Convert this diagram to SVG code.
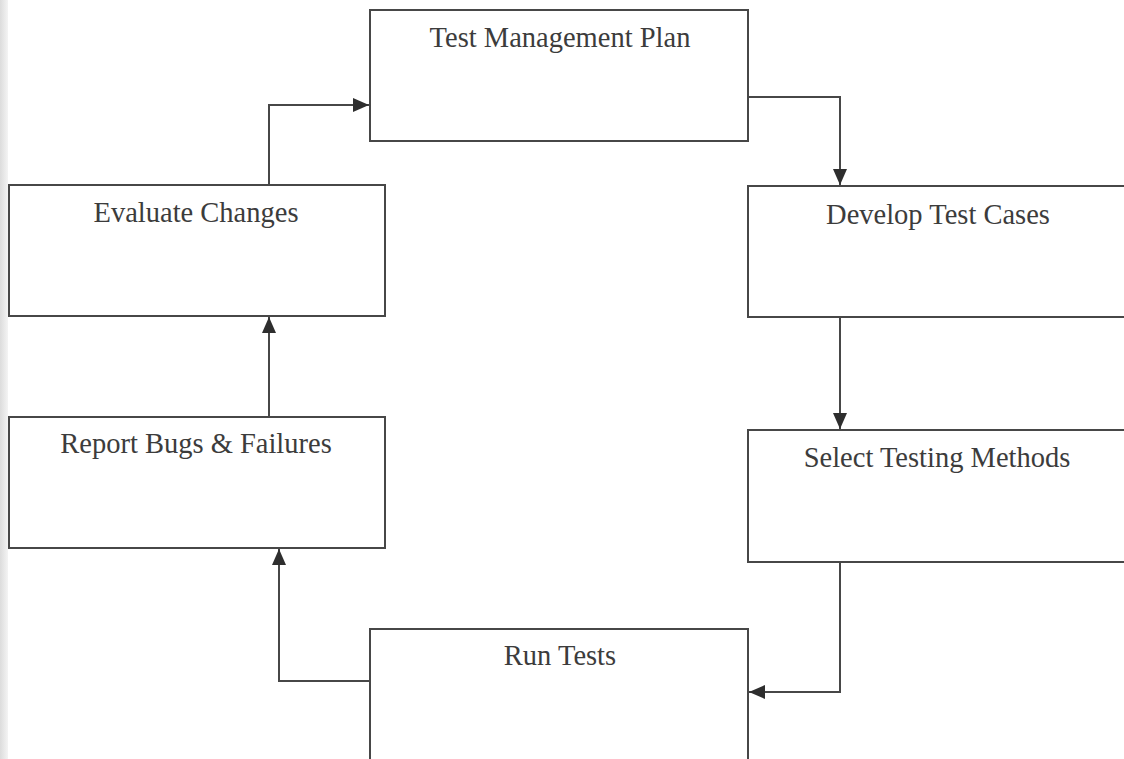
<svg xmlns="http://www.w3.org/2000/svg" width="1124" height="759" viewBox="0 0 1124 759">
<style>
.box{fill:#fff;stroke:#474747;stroke-width:2}
.lbl{font-family:"Liberation Serif","Times New Roman",serif;font-size:28.5px;fill:#3c3c3c;text-anchor:middle}
.con{fill:none;stroke:#474747;stroke-width:2}
</style>
<defs>
<marker id="ah" markerWidth="16" markerHeight="14" refX="16" refY="7" orient="auto" markerUnits="userSpaceOnUse">
<path d="M0,0 L16,7 L0,14 Z" fill="#2e2e2e"/>
</marker>
<linearGradient id="edge" x1="0" x2="1" y1="0" y2="0">
<stop offset="0" stop-color="#dcdcdc"/>
<stop offset="1" stop-color="#f4f4f4"/>
</linearGradient>
</defs>
<rect width="1124" height="759" fill="#fff"/>
<rect x="0" y="0" width="8" height="759" fill="url(#edge)"/>
<g id="connectors">
<path class="con" d="M748,97 H840 V185" marker-end="url(#ah)"/>
<path class="con" d="M840,317 V429" marker-end="url(#ah)"/>
<path class="con" d="M840,562 V692 H749" marker-end="url(#ah)"/>
<path class="con" d="M370,681 H279 V549" marker-end="url(#ah)"/>
<path class="con" d="M269,417 V317" marker-end="url(#ah)"/>
<path class="con" d="M269,185 V105 H369" marker-end="url(#ah)"/>
</g>
<g id="test-management-plan">
<rect class="box" x="370" y="10" width="378" height="131"/>
<text class="lbl" x="560" y="47">Test Management Plan</text>
</g>
<g id="develop-test-cases">
<rect class="box" x="748" y="186" width="380" height="131"/>
<text class="lbl" x="938" y="224">Develop Test Cases</text>
</g>
<g id="select-testing-methods">
<rect class="box" x="748" y="430" width="380" height="132"/>
<text class="lbl" x="937" y="467">Select Testing Methods</text>
</g>
<g id="run-tests">
<rect class="box" x="370" y="629" width="378" height="140"/>
<text class="lbl" x="560" y="665">Run Tests</text>
</g>
<g id="report-bugs">
<rect class="box" x="9" y="417" width="376" height="131"/>
<text class="lbl" x="196" y="453">Report Bugs &amp; Failures</text>
</g>
<g id="evaluate-changes">
<rect class="box" x="9" y="185" width="376" height="131"/>
<text class="lbl" x="196" y="222">Evaluate Changes</text>
</g>
</svg>
